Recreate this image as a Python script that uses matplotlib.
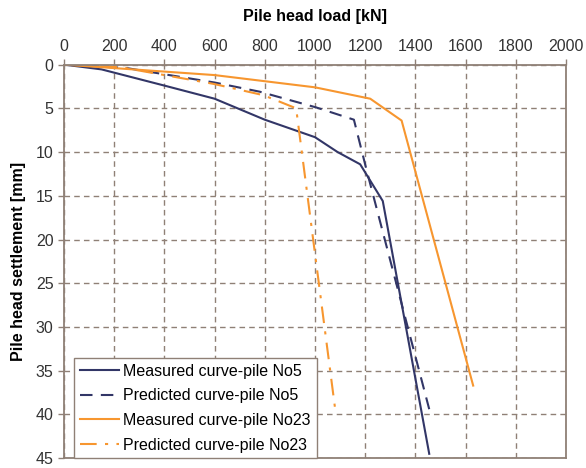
import matplotlib.pyplot as plt

plt.rcParams['font.family'] = ['Liberation Sans', 'DejaVu Sans']

# load [kN] vs settlement [mm]
m5_load = [0, 150, 400, 600, 800, 1000, 1090, 1180, 1270, 1455]
m5_settle = [0, 0.55, 2.4, 3.9, 6.3, 8.3, 10.0, 11.4, 15.6, 44.5]

p5_load = [0, 250, 600, 780, 1005, 1155, 1205, 1455]
p5_settle = [0, 0.4, 2.05, 3.1, 4.9, 6.3, 12.0, 39.4]

m23_load = [0, 600, 1000, 1220, 1345, 1630]
m23_settle = [0, 1.2, 2.6, 3.9, 6.4, 36.7]

p23_load = [0, 220, 595, 795, 925, 1080]
p23_settle = [0, 0.27, 2.2, 3.5, 5.0, 39.3]

navy = "#323667"
orange = "#f7962f"
frame = "#8f8076"

fig = plt.figure(figsize=(5.86, 4.68), dpi=100)
ax = fig.add_axes([0.109, 0.021, 0.857, 0.841])

ax.plot(m5_load, m5_settle, color=navy, lw=1.5, label="Measured curve-pile No5")
ax.plot(p5_load, p5_settle, color=navy, lw=1.5, ls=(0, (6, 4)), label="Predicted curve-pile No5")
ax.plot(m23_load, m23_settle, color=orange, lw=1.5, label="Measured curve-pile No23")
ax.plot(p23_load, p23_settle, color=orange, lw=1.5, ls=(0, (8, 4, 1.5, 4)), label="Predicted curve-pile No23")

ax.set_xlim(0, 2000)
ax.set_ylim(45, 0)
ax.set_xticks(range(0, 2001, 200))
ax.set_yticks(range(0, 46, 5))
ax.xaxis.tick_top()
ax.xaxis.set_label_position('top')
ax.set_xlabel("Pile head load [kN]", fontsize=11.5, fontweight='bold', labelpad=13)
ax.set_ylabel("Pile head settlement [mm]", fontsize=11.5, fontweight='bold', labelpad=7)
ax.tick_params(labelsize=11.5, colors=frame, labelcolor="#333333", length=4, width=1)

ax.grid(True, color=frame, ls=(0, (4, 3)), lw=1)
for s in ax.spines.values():
    s.set_color(frame)
    s.set_linewidth(1.3)

leg = ax.legend(loc='lower left', bbox_to_anchor=(0.02, 0.0), fontsize=11.5,
                fancybox=False, framealpha=1, edgecolor=frame, handlelength=2.5,
                handletextpad=0.25, borderpad=0.35, labelspacing=0.6, borderaxespad=0)
leg.get_frame().set_linewidth(1)

fig.savefig("out.png", dpi=100)
